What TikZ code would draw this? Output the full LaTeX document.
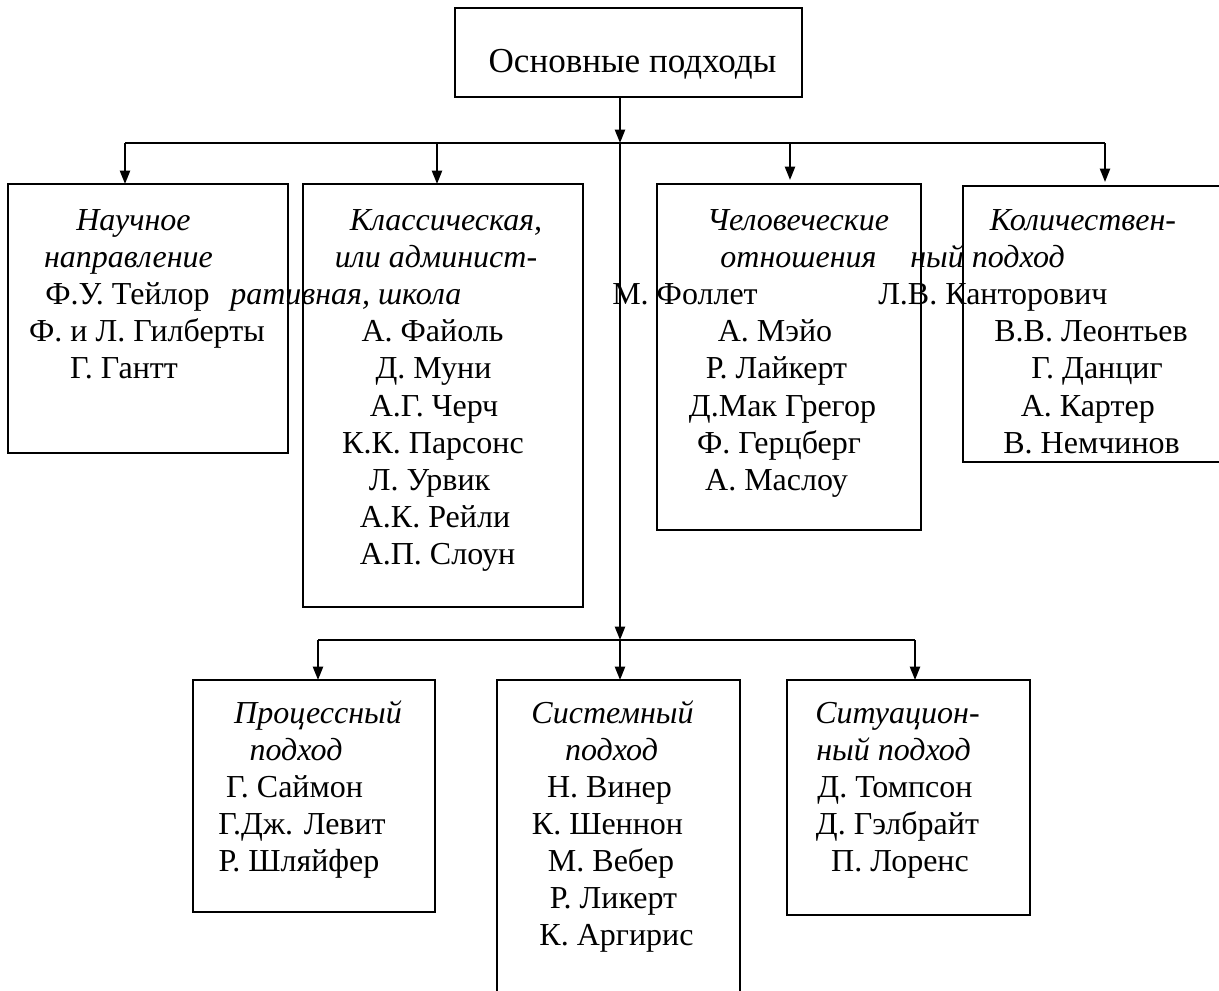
\documentclass[tikz,border=0pt]{standalone}
\usepackage{fontspec}
\setmainfont{Liberation Serif}
\usetikzlibrary{arrows.meta}
\begin{document}
\begin{tikzpicture}[x=0.75pt,y=-0.75pt,
  box/.style={draw,line width=1.8pt,rectangle,inner sep=0pt,outer sep=0pt},
  conn/.style={line width=1.6pt},
  arr/.style={conn,-{Triangle[length=10pt,width=7.5pt]}},
  txt/.style={inner sep=0pt,anchor=base,font=\fontsize{24}{28}\selectfont},
  ital/.style={txt,font=\fontsize{24}{28}\selectfont\itshape},
  txtw/.style={txt,anchor=base west},
  italw/.style={ital,anchor=base west},
  txte/.style={txt,anchor=base east},
]
\useasboundingbox (0,0) rectangle (1219,990);

% boxes
\node[box,minimum width=260.25pt,minimum height=66.75pt] (top) at (628.5,52.5) {};
\node[box,minimum width=210pt,minimum height=201.75pt] (b1) at (148,318.5) {};
\node[box,minimum width=210pt,minimum height=317.25pt] (b2) at (443,395.5) {};
\node[box,minimum width=198pt,minimum height=259.5pt] (b3) at (789,357) {};
\node[box,minimum width=215.25pt,minimum height=207pt] (b4) at (1106.5,324) {};
\node[box,minimum width=181.5pt,minimum height=174pt] (p1) at (314,796) {};
\node[box,minimum width=182.25pt,minimum height=247.5pt] (p2) at (618.5,845) {};
\node[box,minimum width=182.25pt,minimum height=176.25pt] (p3) at (908.5,797.5) {};

% junction coordinates
\coordinate (j0) at (620,143);
\coordinate (bL) at (125,143);
\coordinate (bB) at (437,143);
\coordinate (bC) at (790,143);
\coordinate (bR) at (1105,143);
\coordinate (j1) at (620,640);
\coordinate (cL) at (318,640);
\coordinate (cR) at (915,640);

% connectors
\draw[arr] (top.south -| j0) -- (j0);
\draw[conn] (bL) -- (bR);
\draw[arr] (bL) -- (b1.north -| bL);
\draw[arr] (bB) -- (b2.north -| bB);
\draw[arr] (bC) -- ([yshift=3pt]b3.north -| bC);
\draw[arr] (bR) -- ([yshift=3pt]b4.north -| bR);
\draw[arr] (j0) -- (j1);
\draw[conn] (cL) -- (cR);
\draw[arr] (cL) -- (p1.north -| cL);
\draw[arr] (j1) -- (p2.north -| j1);
\draw[arr] (cR) -- (p3.north -| cR);

% title
\node[txt,font=\fontsize{26.3}{31}\selectfont] (t0) at (632.5,72) {Основные подходы};

% box 1
\node[ital] (t11) at (133.5,230) {Научное};
\node[ital] (t12) at (128.5,267.2) {направление};
\node[txtw] (t13) at (45,304.4) {Ф.У. Тейлор};
\node[txt] (t14) at (147,341.6) {Ф. и Л. Гилберты};
\node[txt] (t15) at (124,378.8) {Г. Гантт};

% box 2
\node[ital] (t21) at (446,230) {Классическая,};
\node[ital] (t22) at (436,267.2) {или админист-};
\node[italw] (t23) at (230,304.4) {ративная, школа};
\node[txt] (t24) at (432.5,341.6) {А. Файоль};
\node[txt] (t25) at (433.5,378.8) {Д. Муни};
\node[txt] (t26) at (434,416) {А.Г. Черч};
\node[txt] (t27) at (433,453.2) {К.К. Парсонс};
\node[txt] (t28) at (429.5,490.4) {Л. Урвик};
\node[txt] (t29) at (435,527.6) {А.К. Рейли};
\node[txt] (t2a) at (437.5,564.8) {А.П. Слоун};

% box 3
\node[ital] (t31) at (798,230) {Человеческие};
\node[ital] (t32) at (798.5,267.2) {отношения};
\node[txtw] (t33) at (612,304.4) {М. Фоллет};
\node[txt] (t34) at (775,341.6) {А. Мэйо};
\node[txt] (t35) at (776.5,378.8) {Р. Лайкерт};
\node[txt] (t36) at (782.5,416) {Д.Мак Грегор};
\node[txt] (t37) at (779,453.2) {Ф. Герцберг};
\node[txt] (t38) at (776.5,490.4) {А. Маслоу};

% box 4
\node[ital] (t41) at (1083,230) {Количествен-};
\node[italw] (t42) at (910,267.2) {ный подход};
\node[txtw] (t43) at (878,304.4) {Л.В. Канторович};
\node[txte] (t44) at (1188,341.6) {В.В. Леонтьев};
\node[txte] (t45) at (1163,378.8) {Г. Данциг};
\node[txte] (t46) at (1155,416) {А. Картер};
\node[txte] (t47) at (1180,453.2) {В. Немчинов};

% process
\node[ital] (t51) at (318,723) {Процессный};
\node[ital] (t52) at (296,760) {подход};
\node[txt] (t53) at (294.5,797) {Г. Саймон};
\node[txt] (t54) at (302,834) {Г.Дж. Левит};
\node[txt] (t55) at (299,871) {Р. Шляйфер};

% system
\node[ital] (t61) at (612.5,723) {Системный};
\node[ital] (t62) at (611.5,760) {подход};
\node[txt] (t63) at (609.5,797) {Н. Винер};
\node[txt] (t64) at (607.5,834) {К. Шеннон};
\node[txt] (t65) at (611,871) {М. Вебер};
\node[txt] (t66) at (613.5,908) {Р. Ликерт};
\node[txt] (t67) at (616.5,945) {К. Аргирис};

% situational
\node[ital] (t71) at (897.5,723) {Ситуацион-};
\node[ital] (t72) at (893.5,760) {ный подход};
\node[txt] (t73) at (895,797) {Д. Томпсон};
\node[txt] (t74) at (897.5,834) {Д. Гэлбрайт};
\node[txt] (t75) at (900,871) {П. Лоренс};
\end{tikzpicture}
\end{document}
